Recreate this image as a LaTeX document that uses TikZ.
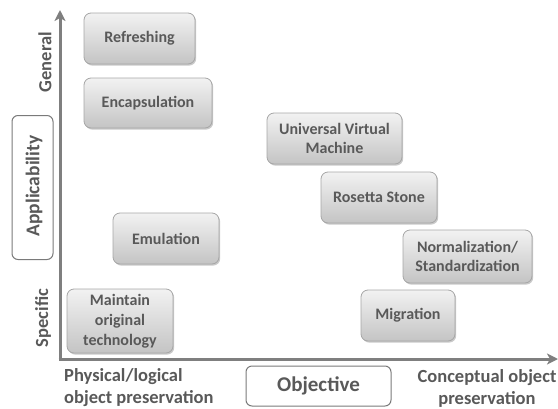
\documentclass[tikz,border=0pt]{standalone}
\usepackage{fontspec}
\setmainfont{Carlito}
\usetikzlibrary{shadows,arrows.meta}
\definecolor{txt}{HTML}{595959}
\definecolor{axisgray}{HTML}{7F7F7F}
\definecolor{boxtop}{HTML}{F2F2F2}
\definecolor{boxbot}{HTML}{C4C4C4}
\definecolor{boxline}{HTML}{A6A6A6}
\tikzset{
  method/.style={draw=boxline, line width=0.8pt, rounded corners=7pt,
    top color=boxtop, bottom color=boxbot, text=txt,
    font=\fontsize{16}{19}\selectfont\bfseries, align=center, inner sep=0pt,
    drop shadow={shadow xshift=1.2pt, shadow yshift=-1.6pt, opacity=0.35, fill=black!60}},
  axislabel/.style={draw=txt!80, line width=1pt, rounded corners=6pt, fill=white,
    text=txt, font=\fontsize{21}{24}\selectfont\bfseries, inner sep=0pt},
  ticktext/.style={text=txt, font=\fontsize{18.5}{22}\selectfont\bfseries},
  axisline/.style={draw=axisgray, line width=3pt, -{Stealth[length=11pt,width=11pt,inset=3pt]}}
}
\begin{document}
\begin{tikzpicture}[x=1pt,y=-1pt]
\useasboundingbox (0,0) rectangle (558,408);
% axes
\coordinate (origin) at (60,359);
\coordinate (ytip) at (60,10);
\coordinate (xtip) at (558,359);
\draw[axisline] ([yshift=-1.5pt]origin) -- (ytip);
\draw[axisline] ([xshift=-1.5pt]origin) -- (xtip);
% method boxes
\node[method, minimum width=111pt, minimum height=51pt] (refresh) at (139.5,38.5) {Refreshing};
\node[method, minimum width=128pt, minimum height=50pt] (encap) at (148,103) {Encapsulation};
\node[method, minimum width=135pt, minimum height=51pt] (uvm) at (334.5,138.5) {Universal Virtual\\Machine};
\node[method, minimum width=116pt, minimum height=51pt] (rosetta) at (379,197.5) {Rosetta Stone};
\node[method, minimum width=129pt, minimum height=53pt] (norm) at (467.5,256.5) {Normalization/\\Standardization};
\node[method, minimum width=94pt, minimum height=51pt] (migr) at (408,315.5) {Migration};
\node[method, minimum width=106pt, minimum height=51pt] (emul) at (166,238.5) {Emulation};
\node[method, minimum width=106pt, minimum height=64pt, font=\fontsize{16}{20}\selectfont\bfseries] (maint) at (120,321) {Maintain\\original\\technology};
% axis titles
\node[axislabel, minimum width=41pt, minimum height=144pt] (applic) at (32.5,187.5) {};
\node[text=txt, font=\fontsize{19.5}{23}\selectfont\bfseries, rotate=90] at (34,186) {Applicability};
\node[axislabel, minimum width=145pt, minimum height=40pt] (objective) at (318.5,386) {Objective};
% tick labels
\node[ticktext, rotate=90] (general) at (45,62) {General};
\node[ticktext, rotate=90] (specific) at (43,318) {Specific};
\node[ticktext, align=left, anchor=west, inner sep=0pt] (phys) at (64,388) {Physical/logical\\object preservation};
\node[ticktext, align=center, inner sep=0pt] (concept) at (487,388) {Conceptual object\\preservation};
\end{tikzpicture}
\end{document}
